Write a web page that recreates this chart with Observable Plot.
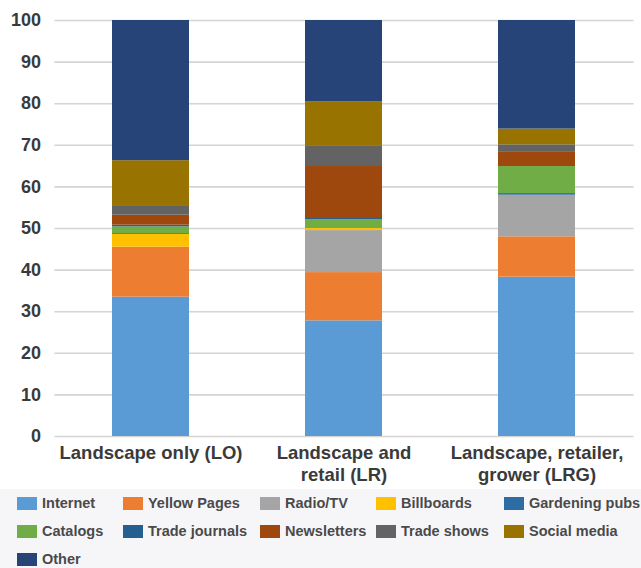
<!DOCTYPE html>
<html>
<head>
<meta charset="utf-8">
<script src="https://cdn.jsdelivr.net/npm/d3@7"></script>
<script src="https://cdn.jsdelivr.net/npm/@observablehq/plot@0.6"></script>
<style>
  html, body { margin: 0; padding: 0; background: #f6f6f9; }
  body { width: 641px; height: 568px; overflow: hidden; font-family: "Liberation Sans", Arial, Helvetica, sans-serif; }
  #chart svg { display: block; background: #ffffff; }
  #legend {
    display: grid;
    grid-template-columns: 106px 137px 116px 128px auto;
    grid-auto-rows: 28px;
    padding-left: 17px;
    margin-top: 0px;
    font-size: 14.5px;
    font-weight: bold;
    color: #4a4a4a;
  }
  #legend .item { display: flex; align-items: center; white-space: nowrap; }
  #legend .sw { width: 20px; height: 13px; margin-right: 5px; flex: none; }
</style>
</head>
<body>
<div id="chart"></div>
<div id="legend"></div>
<script>
// Customer groups (x axis) and their two-line tick labels
const groups = ["LO", "LR", "LRG"];
const groupLabels = ["Landscape only (LO)", "Landscape and\nretail (LR)", "Landscape, retailer,\ngrower (LRG)"];

// Advertising channels, in stacking order (bottom to top)
const series = ["Internet", "Yellow Pages", "Radio/TV", "Billboards", "Gardening pubs",
                "Catalogs", "Trade journals", "Newsletters", "Trade shows", "Social media", "Other"];
const colors = ["#5b9bd5", "#ed7d31", "#a5a5a5", "#ffc000", "#2e6da4",
                "#70ad47", "#255e91", "#9e480e", "#636363", "#997300", "#264478"];

// Percent of respondents per channel, for LO, LR, LRG
const internet      = [33.5, 27.8, 38.3];
const yellowPages   = [12.0, 11.6,  9.7];
const radioTV       = [ 0.0, 10.1, 10.0];
const billboards    = [ 3.1,  0.5,  0.0];
const gardeningPubs = [ 0.2,  0.0,  0.4];
const catalogs      = [ 1.6,  2.1,  6.5];
const tradeJournals = [ 0.4,  0.3,  0.0];
const newsletters   = [ 2.4, 12.5,  3.4];
const tradeShows    = [ 2.3,  5.0,  1.8];
const socialMedia   = [10.8, 10.6,  3.8];
const other         = [33.7, 19.5, 26.1];

const yTicks = [0, 10, 20, 30, 40, 50, 60, 70, 80, 90, 100];

const valuesBySeries = [internet, yellowPages, radioTV, billboards, gardeningPubs,
                        catalogs, tradeJournals, newsletters, tradeShows, socialMedia, other];

// Long-format table for the stacked bars
const rows = [];
groups.forEach((g, gi) => {
  series.forEach((s, si) => {
    rows.push({group: g, series: s, value: valuesBySeries[si][gi]});
  });
});

const font = "Liberation Sans, Arial, Helvetica, sans-serif";

const chart = Plot.plot({
  width: 641,
  height: 489,
  marginLeft: 54.5,
  marginRight: 7.5,
  marginTop: 20,
  marginBottom: 53,
  style: {fontFamily: font, background: "#ffffff"},
  x: {domain: groups, paddingInner: 0.6, paddingOuter: 0.3, label: null},
  y: {domain: [0, 100], label: null},
  color: {domain: series, range: colors},
  marks: [
    Plot.gridY(yTicks, {stroke: "#d4d4d4", strokeOpacity: 1, strokeWidth: 1.6}),
    Plot.barY(rows, Plot.stackY({x: "group", y: "value", fill: "series", z: "series"})),
    Plot.axisY(yTicks, {
      tickSize: 0, tickPadding: 14, fontSize: 18, fontWeight: "bold",
      fill: "#3a3a3a", label: null
    }),
    Plot.axisX({
      tickSize: 0, tickPadding: 7, fontSize: 18.5, fontWeight: "bold",
      fill: "#3a3a3a", lineHeight: 1.2, label: null,
      tickFormat: (d) => groupLabels[groups.indexOf(d)]
    })
  ]
});
document.getElementById("chart").appendChild(chart);

// Legend: five columns, row by row, same order as the stack
const legend = document.getElementById("legend");
series.forEach((s, i) => {
  const item = document.createElement("div");
  item.className = "item";
  const sw = document.createElement("span");
  sw.className = "sw";
  sw.style.background = colors[i];
  item.appendChild(sw);
  item.appendChild(document.createTextNode(s));
  legend.appendChild(item);
});
</script>
</body>
</html>
